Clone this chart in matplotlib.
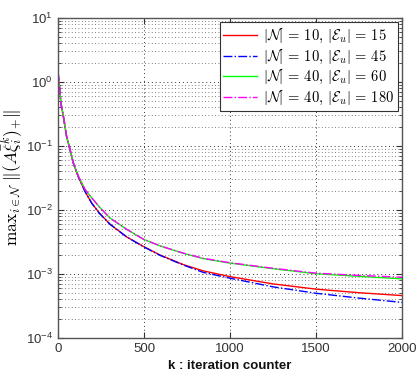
import math
import matplotlib
matplotlib.use("Agg")
import matplotlib.pyplot as plt
from matplotlib.ticker import LogLocator, FixedLocator, NullFormatter, FuncFormatter

plt.rcParams['font.family'] = ['Liberation Sans', 'DejaVu Sans']
plt.rcParams['mathtext.fontset'] = 'cm'
plt.rcParams['mathtext.default'] = 'it'

# ---- data ----
k_pts = [0, 6, 12, 17, 31, 50, 70, 89, 118, 157, 196, 240, 302, 399, 496, 593, 729, 844, 1000, 1250, 1500, 1750, 2000]

red_vals = [1.20, 0.95, 0.67, 0.46, 0.29, 0.140, 0.087, 0.054, 0.033, 0.0195, 0.0128, 0.0090,
            0.0060, 0.0038, 0.00270, 0.00198, 0.00140, 0.00112, 0.00091, 0.00070, 0.00058, 0.00051, 0.00046]
blue_vals = [1.45, 1.05, 0.68, 0.46, 0.29, 0.140, 0.087, 0.054, 0.033, 0.0195, 0.0128, 0.0089,
             0.0060, 0.0038, 0.00268, 0.00196, 0.00138, 0.00106, 0.00086, 0.00063, 0.00050, 0.00042, 0.00036]
green_vals = [1.00, 0.95, 0.68, 0.47, 0.30, 0.142, 0.088, 0.055, 0.034, 0.0210, 0.0155, 0.0112,
              0.0075, 0.0050, 0.00350, 0.00275, 0.00210, 0.00174, 0.00148, 0.00121, 0.00101, 0.00092, 0.00084]
magenta_vals = [1.45, 1.05, 0.68, 0.47, 0.30, 0.142, 0.088, 0.055, 0.034, 0.0210, 0.0155, 0.0112,
                0.0075, 0.0050, 0.00350, 0.00275, 0.00212, 0.00176, 0.00150, 0.00123, 0.00103, 0.00095, 0.00089]

labels = [r'$|\mathcal{N}|\,=\,10,\,|\mathcal{E}_u|\,=\,15$',
          r'$|\mathcal{N}|\,=\,10,\,|\mathcal{E}_u|\,=\,45$',
          r'$|\mathcal{N}|\,=\,40,\,|\mathcal{E}_u|\,=\,60$',
          r'$|\mathcal{N}|\,=\,40,\,|\mathcal{E}_u|\,=\,180$']

x_ticks = [0, 500, 1000, 1500, 2000]
y_exps = [-4, -3, -2, -1, 0, 1]

fig = plt.figure(figsize=(4.17, 3.74), dpi=100)
ax = fig.add_axes([58/417, 1 - 338/374, (402 - 58)/417, (338 - 18)/374])

ax.plot(k_pts, red_vals, color='#ff0000', lw=1.0, ls='-', label=labels[0])
ax.plot(k_pts, blue_vals, color='#0000ff', lw=1.0, ls='-.', label=labels[1])
ax.plot(k_pts, green_vals, color='#00ff00', lw=1.0, ls='-', label=labels[2])
ax.plot(k_pts, magenta_vals, color='#ff00ff', lw=1.0, ls='-.', label=labels[3])

ax.set_yscale('log')
ax.set_xlim(0, 2000)
ax.set_ylim(1e-4, 1e1)
ax.xaxis.set_major_locator(FixedLocator(x_ticks))
ax.yaxis.set_major_locator(FixedLocator([10.0**e for e in y_exps]))
ax.yaxis.set_minor_locator(LogLocator(base=10, subs=range(2, 10)))
ax.yaxis.set_minor_formatter(NullFormatter())
ax.yaxis.set_major_formatter(FuncFormatter(lambda v, p: r'$\mathregular{10^{%d}}$' % round(math.log10(v))))

ax.grid(True, which='major', ls=(0, (1, 3)), color='#333333', lw=0.7)
ax.grid(True, which='minor', axis='y', ls=(0, (1, 3)), color='#555555', lw=0.6)

ax.tick_params(which='both', direction='in', top=True, right=True, colors='#333333', labelcolor='#333333', labelsize=9.5)
ax.tick_params(which='major', length=4)
ax.tick_params(which='minor', length=2)
for s in ax.spines.values():
    s.set_color('#555555')
    s.set_linewidth(1.0)

ax.set_xlabel('k : iteration counter', fontsize=9.5, fontweight='bold', color='#111111', labelpad=4)
ax.set_ylabel(r'$\mathrm{max}_{i\in\mathcal{N}}\ \|(A\bar{\xi}_i^{k})_{+}\|$', fontsize=12.5)
ax.yaxis.set_label_coords(-33/344, 0.5)

leg = ax.legend(loc='upper right', fontsize=10.5, frameon=True, fancybox=False,
                edgecolor='#333333', framealpha=1.0, borderaxespad=0.3,
                handlelength=2.3, handletextpad=0.4, labelspacing=0.1, borderpad=0.25)
leg.get_frame().set_linewidth(0.8)

fig.savefig('out.png', dpi=100)
